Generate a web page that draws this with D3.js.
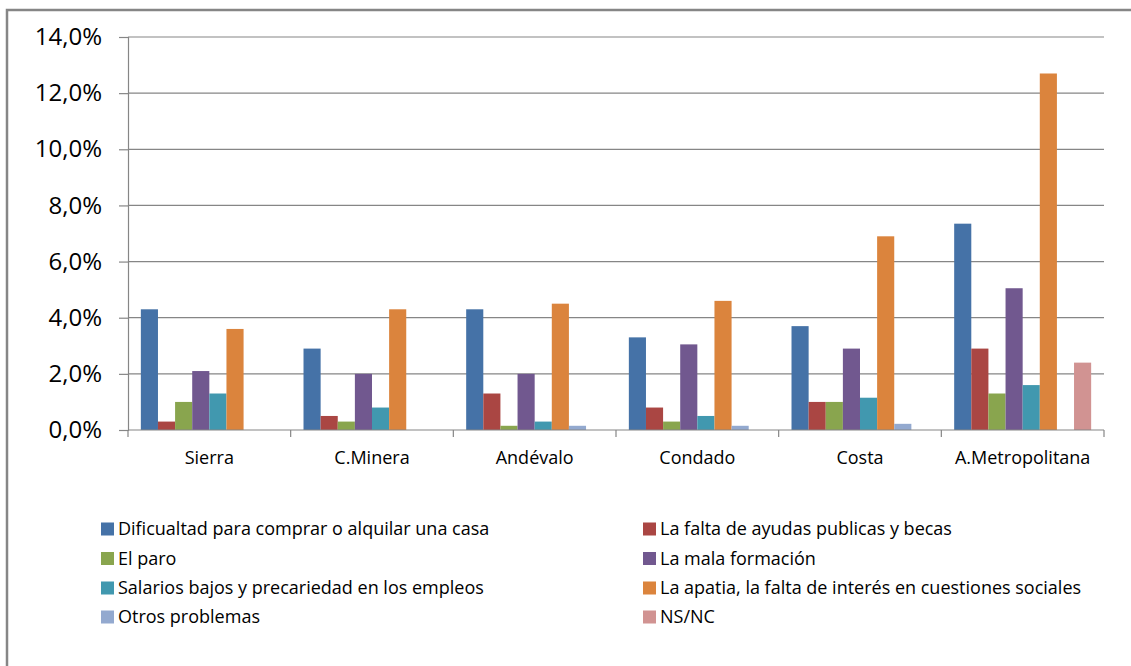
<!DOCTYPE html>
<html lang="es">
<head>
<meta charset="UTF-8">
<title>Problemas de la juventud por comarca</title>
<script src="https://d3js.org/d3.v7.min.js"></script>
<style>
  body { margin: 0; background: #fff; }
  svg { display: block; }
  text { font-family: "Open Sans", sans-serif; fill: #000; }
</style>
</head>
<body>
<svg width="1131" height="666"></svg>
<script>
    // datos (porcentajes)
    const categories = ["Sierra", "C.Minera", "Andévalo", "Condado", "Costa", "A.Metropolitana"];
    const seriesNames = [
        "Dificualtad para comprar o alquilar una casa",
        "La falta de ayudas publicas y becas",
        "El paro",
        "La mala formación",
        "Salarios bajos y precariedad en los empleos",
        "La apatia, la falta de interés en cuestiones sociales",
        "Otros problemas",
        "NS/NC"
    ];
    const vivienda   = [4.3, 2.9, 4.3, 3.3, 3.7, 7.35];
    const ayudas     = [0.3, 0.5, 1.3, 0.8, 1.0, 2.9];
    const paro       = [1.0, 0.3, 0.15, 0.3, 1.0, 1.3];
    const formacion  = [2.1, 2.0, 2.0, 3.05, 2.9, 5.05];
    const salarios   = [1.3, 0.8, 0.3, 0.5, 1.15, 1.6];
    const apatia     = [3.6, 4.3, 4.5, 4.6, 6.9, 12.7];
    const otros      = [0, 0, 0.15, 0.15, 0.22, 0];
    const nsnc       = [0, 0, 0, 0, 0, 2.4];
    const yTicks = [0, 2, 4, 6, 8, 10, 12, 14];

    const seriesValues = [vivienda, ayudas, paro, formacion, salarios, apatia, otros, nsnc];
    const colors = ["#4572A7", "#AA4643", "#89A54E", "#71588F", "#4198AF", "#DB843D", "#93A9CF", "#D19392"];

    const svg = d3.select("svg");

    // marco exterior (sólo se ven los bordes superior e izquierdo)
    svg.append("rect")
        .attr("x", 7).attr("y", 10)
        .attr("width", 1200).attr("height", 700)
        .attr("fill", "none")
        .attr("stroke", "#868686")
        .attr("stroke-width", 2.5);

    const plotLeft = 128, plotRight = 1104, plotTop = 37, plotBottom = 430;

    const x0 = d3.scaleBand().domain(categories).range([plotLeft, plotRight]).padding(0);
    const x1 = d3.scaleBand().domain(d3.range(seriesNames.length))
        .range([0, x0.bandwidth()]).paddingInner(0).paddingOuter(0.75);
    const y = d3.scaleLinear().domain([0, 14]).range([plotBottom, plotTop]);

    // rejilla
    svg.append("g")
        .selectAll("line")
        .data(yTicks.filter(d => d > 0))
        .enter().append("line")
        .attr("x1", plotLeft).attr("x2", plotRight)
        .attr("y1", d => y(d)).attr("y2", d => y(d))
        .attr("stroke", "#868686")
        .attr("stroke-width", 1.2);

    // barras
    const groups = svg.append("g")
        .selectAll("g")
        .data(categories)
        .enter().append("g")
        .attr("transform", d => `translate(${x0(d)},0)`);

    groups.selectAll("rect")
        .data((c, ci) => seriesValues.map((vals, si) => ({ si: si, v: vals[ci] })))
        .enter().append("rect")
        .attr("x", d => x1(d.si))
        .attr("width", x1.bandwidth())
        .attr("y", d => y(d.v))
        .attr("height", d => y(0) - y(d.v))
        .attr("fill", d => colors[d.si]);

    // eje Y
    const yAxis = d3.axisLeft(y)
        .tickValues(yTicks)
        .tickSize(9)
        .tickPadding(17)
        .tickFormat(d => d3.format(".1f")(d).replace(".", ",") + "%");
    const gy = svg.append("g")
        .attr("transform", `translate(${plotLeft},0)`)
        .call(yAxis);
    gy.select(".domain").attr("stroke", "#868686").attr("stroke-width", 1.2);
    gy.selectAll(".tick line").attr("stroke", "#868686").attr("stroke-width", 1.2);
    gy.selectAll(".tick text")
        .style("font-size", "24px")
        .style("font-family", "'Open Sans', sans-serif")
        .attr("fill", "#1a1a1a");

    // eje X
    const gx = svg.append("g")
        .attr("transform", `translate(0,${plotBottom})`);
    gx.append("line")
        .attr("x1", plotLeft).attr("x2", plotRight)
        .attr("stroke", "#868686").attr("stroke-width", 1.2);
    gx.selectAll(".tk")
        .data(categories.map(c => x0(c)).concat([plotRight]))
        .enter().append("line")
        .attr("class", "tk")
        .attr("x1", d => d).attr("x2", d => d)
        .attr("y1", 0).attr("y2", 7)
        .attr("stroke", "#868686").attr("stroke-width", 1.2);
    gx.selectAll(".lbl")
        .data(categories)
        .enter().append("text")
        .attr("class", "lbl")
        .attr("x", d => x0(d) + x0.bandwidth() / 2)
        .attr("y", 28)
        .attr("dy", "0.35em")
        .attr("text-anchor", "middle")
        .style("font-size", "18px")
        .text(d => d);

    // leyenda
    const legendX = [101, 643];
    const legendY = [529, 558.5, 588, 617];
    const legend = svg.append("g")
        .selectAll("g")
        .data(seriesNames)
        .enter().append("g")
        .attr("transform", (d, i) => `translate(${legendX[i % 2]},${legendY[Math.floor(i / 2)]})`);
    legend.append("rect")
        .attr("x", 0).attr("y", -6.5)
        .attr("width", 13).attr("height", 13)
        .attr("fill", (d, i) => colors[i]);
    legend.append("text")
        .attr("x", 17)
        .attr("y", 0)
        .attr("dy", "0.35em")
        .style("font-size", "18px")
        .text(d => d);
</script>
</body>
</html>
